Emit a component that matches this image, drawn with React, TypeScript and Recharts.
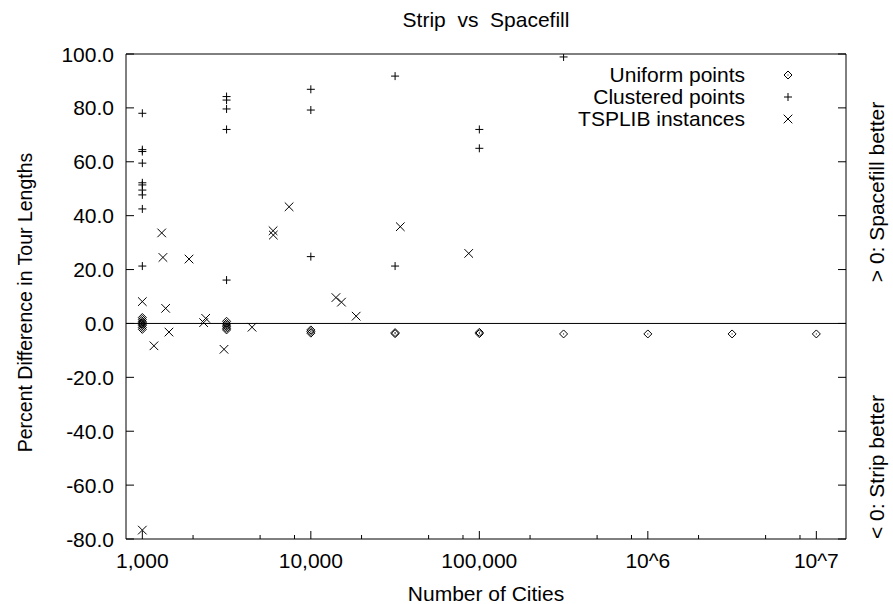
import React from 'react';
import { ScatterChart, Scatter, XAxis, YAxis, ReferenceLine, Legend, Label } from 'recharts';

// ---- data ----
const uniformCities = [1000, 1000, 1000, 1000, 1000, 1000, 1000, 1000, 3162, 3162, 3162, 3162, 3162, 3162, 10000, 10000, 10000, 31623, 31623, 100000, 100000, 316228, 1000000, 3162278, 10000000];
const uniformDiff = [2.2, 1.5, 0.8, 0.3, -0.3, -0.8, -1.5, -2.2, 0.8, 0.0, -0.6, -1.2, -1.8, -2.4, -2.4, -3.0, -3.6, -3.4, -3.8, -3.3, -3.8, -3.9, -3.9, -3.9, -3.9];

const clusteredCities = [1000, 1000, 1000, 1000, 1000, 1000, 1000, 1000, 1000, 1000, 3162, 3162, 3162, 3162, 3162, 10000, 10000, 10000, 31623, 31623, 100000, 100000, 316228];
const clusteredDiff = [78.0, 64.5, 63.8, 59.5, 52.2, 51.4, 49.5, 47.7, 42.5, 21.3, 84.2, 82.9, 79.6, 72.0, 16.1, 86.9, 79.2, 24.8, 91.8, 21.3, 72.0, 65.0, 98.9];

const tspCities = [1000, 1000, 1172, 1303, 1325, 1375, 1439, 1893, 2311, 2377, 3053, 4478, 5970, 5990, 7430, 14090, 15200, 18580, 33960, 86500];
const tspDiff = [8.1, -76.7, -8.3, 33.6, 24.5, 5.6, -3.2, 23.9, 0.3, 1.9, -9.6, -1.4, 34.4, 32.8, 43.3, 9.6, 7.9, 2.7, 35.9, 26.0];

const xTicks = [1000, 2000, 5000, 8000, 10000, 20000, 50000, 80000, 100000, 200000, 500000, 800000, 1000000, 2000000, 5000000, 8000000, 10000000];
const xMajorTicks = [1000, 10000, 100000, 1000000, 10000000];
const xMajorLabels = ['1,000', '10,000', '100,000', '10^6', '10^7'];
const yTicks = [-80, -60, -40, -20, 0, 20, 40, 60, 80, 100];

const seriesNames = ['Uniform points', 'Clustered points', 'TSPLIB instances'];
const titleText = 'Strip  vs  Spacefill';
const xTitle = 'Number of Cities';
const yTitle = 'Percent Difference in Tour Lengths';
const rightTop = '> 0: Spacefill better';
const rightBottom = '< 0: Strip better';

const zip = (xs: number[], ys: number[]) => xs.map((x, i) => ({ x, y: ys[i] }));
const uniformData = zip(uniformCities, uniformDiff);
const clusteredData = zip(clusteredCities, clusteredDiff);
const tspData = zip(tspCities, tspDiff);

// ---- style ----
const FONT = '"Liberation Sans", Arial, Helvetica, sans-serif';
const FS = 21;
const INK = '#000';

const majorIndex = (v: number) => xMajorTicks.findIndex((m) => Math.abs(m - v) / m < 1e-6);

const diamondPath = (cx: number, cy: number) => `M${cx},${cy - 4}L${cx + 4},${cy}L${cx},${cy + 4}L${cx - 4},${cy}Z`;
const plusPath = (cx: number, cy: number) => `M${cx - 4},${cy}H${cx + 4}M${cx},${cy - 4}V${cy + 4}`;
const crossPath = (cx: number, cy: number) => `M${cx - 4.3},${cy - 4.3}L${cx + 4.3},${cy + 4.3}M${cx + 4.3},${cy - 4.3}L${cx - 4.3},${cy + 4.3}`;

const Diamond = (p: any) => (
  <g>
    <path d={diamondPath(p.cx, p.cy)} fill="none" stroke={INK} strokeWidth={1} />
    <rect x={p.cx - 0.5} y={p.cy - 0.5} width={1} height={1} fill={INK} />
  </g>
);
const Plus = (p: any) => <path d={plusPath(p.cx, p.cy)} fill="none" stroke={INK} strokeWidth={1} />;
const Cross = (p: any) => <path d={crossPath(p.cx, p.cy)} fill="none" stroke={INK} strokeWidth={1} />;

const symbolFor = (name: string, cx: number, cy: number) => {
  if (name === seriesNames[0]) return <Diamond cx={cx} cy={cy} />;
  if (name === seriesNames[1]) return <Plus cx={cx} cy={cy} />;
  return <Cross cx={cx} cy={cy} />;
};

const BottomTick = (props: any) => {
  const { x, y, payload } = props;
  const idx = majorIndex(payload.value);
  const major = idx >= 0;
  return (
    <g>
      <line x1={x} x2={x} y1={y} y2={y - (major ? 8 : 4)} stroke={INK} strokeWidth={1} />
      {major && (
        <text x={x} y={y + 29} textAnchor="middle" fontFamily={FONT} fontSize={FS} fill={INK}>
          {xMajorLabels[idx]}
        </text>
      )}
    </g>
  );
};

const TopTick = (props: any) => {
  const { x, y, payload } = props;
  const major = majorIndex(payload.value) >= 0;
  return <line x1={x} x2={x} y1={y} y2={y + (major ? 8 : 4)} stroke={INK} strokeWidth={1} />;
};

const LeftTick = (props: any) => {
  const { x, y, payload } = props;
  return (
    <g>
      <line x1={x} x2={x + 8} y1={y} y2={y} stroke={INK} strokeWidth={1} />
      <text x={x - 12} y={y} dy="0.36em" textAnchor="end" fontFamily={FONT} fontSize={FS} fill={INK}>
        {Number(payload.value).toFixed(1)}
      </text>
    </g>
  );
};

const RightTick = (props: any) => {
  const { x, y } = props;
  return <line x1={x} x2={x - 8} y1={y} y2={y} stroke={INK} strokeWidth={1} />;
};

const renderLegend = (props: any) => {
  const payload = [...(props.payload || [])].sort(
    (a: any, b: any) => seriesNames.indexOf(a.value) - seriesNames.indexOf(b.value)
  );
  return (
    <div style={{ fontFamily: FONT, fontSize: FS, color: INK }}>
      {payload.map((entry: any, i: number) => (
        <div key={i} style={{ display: 'flex', alignItems: 'center', height: 22 }}>
          <span style={{ width: 245, textAlign: 'right', whiteSpace: 'pre', lineHeight: '22px' }}>{entry.value}</span>
          <svg width={86} height={22} style={{ display: 'block' }}>
            {symbolFor(entry.value, 43, 11)}
          </svg>
        </div>
      ))}
    </div>
  );
};

export default function App() {
  return (
    <div style={{ position: 'absolute', left: 0, top: 0, width: 893, height: 604, background: '#fff' }}>
      <ScatterChart width={893} height={604} margin={{ top: 0, right: 0, bottom: 0, left: 0 }}>
        <XAxis
          dataKey="x"
          type="number"
          scale="log"
          domain={[800, 15000000]}
          allowDataOverflow
          ticks={xTicks}
          interval={0}
          tickSize={0}
          tickMargin={0}
          tickLine={false}
          tick={(p: any) => <BottomTick {...p} />}
          axisLine={{ stroke: INK, strokeWidth: 1 }}
          height={65}
        >
          <Label
            content={(p: any) => {
              const vb = p.viewBox;
              return (
                <text x={vb.x + vb.width / 2} y={vb.y + 62} textAnchor="middle" fontFamily={FONT} fontSize={FS} fill={INK}>
                  {xTitle}
                </text>
              );
            }}
          />
        </XAxis>
        <XAxis
          xAxisId="top"
          orientation="top"
          type="number"
          scale="log"
          domain={[800, 15000000]}
          allowDataOverflow
          ticks={xTicks}
          interval={0}
          tickSize={0}
          tickMargin={0}
          tickLine={false}
          tick={(p: any) => <TopTick {...p} />}
          axisLine={{ stroke: INK, strokeWidth: 1 }}
          height={54}
        >
          <Label
            content={(p: any) => {
              const vb = p.viewBox;
              return (
                <text x={vb.x + vb.width / 2} y={vb.y + 27} textAnchor="middle" fontFamily={FONT} fontSize={FS} fill={INK} style={{ whiteSpace: 'pre' }}>
                  {titleText}
                </text>
              );
            }}
          />
        </XAxis>
        <YAxis
          dataKey="y"
          type="number"
          domain={[-80, 100]}
          allowDataOverflow
          ticks={yTicks}
          interval={0}
          tickSize={0}
          tickMargin={0}
          tickLine={false}
          tick={(p: any) => <LeftTick {...p} />}
          axisLine={{ stroke: INK, strokeWidth: 1 }}
          width={126}
        >
          <Label
            content={(p: any) => {
              const vb = p.viewBox;
              const cx = vb.x + 25;
              const cy = vb.y + vb.height / 2 + 6;
              return (
                <text x={cx} y={cy} textAnchor="middle" dominantBaseline="central" transform={`rotate(-90 ${cx} ${cy})`} fontFamily={FONT} fontSize={19.5} fill={INK}>
                  {yTitle}
                </text>
              );
            }}
          />
        </YAxis>
        <YAxis
          yAxisId="right"
          orientation="right"
          type="number"
          domain={[-80, 100]}
          allowDataOverflow
          ticks={yTicks}
          interval={0}
          tickSize={0}
          tickMargin={0}
          tickLine={false}
          tick={(p: any) => <RightTick {...p} />}
          axisLine={{ stroke: INK, strokeWidth: 1 }}
          width={47}
        >
          <Label
            content={(p: any) => {
              const vb = p.viewBox;
              const cx = vb.x + 30;
              const cy1 = vb.y + 138;
              const cy2 = vb.y + 413;
              return (
                <g>
                  <text x={cx} y={cy1} textAnchor="middle" dominantBaseline="central" transform={`rotate(-90 ${cx} ${cy1})`} fontFamily={FONT} fontSize={FS} fill={INK}>
                    {rightTop}
                  </text>
                  <text x={cx} y={cy2} textAnchor="middle" dominantBaseline="central" transform={`rotate(-90 ${cx} ${cy2})`} fontFamily={FONT} fontSize={FS} fill={INK}>
                    {rightBottom}
                  </text>
                </g>
              );
            }}
          />
        </YAxis>
        <ReferenceLine y={0} stroke={INK} strokeWidth={1} />
        <Legend
          layout="vertical"
          align="center"
          verticalAlign="middle"
          content={renderLegend}
          wrapperStyle={{ position: 'absolute', top: 64, left: 500, width: 331, height: 66 }}
        />
        <Scatter name={seriesNames[0]} data={uniformData} shape={Diamond} isAnimationActive={false} legendType="diamond" />
        <Scatter name={seriesNames[1]} data={clusteredData} shape={Plus} isAnimationActive={false} legendType="cross" />
        <Scatter name={seriesNames[2]} data={tspData} shape={Cross} isAnimationActive={false} legendType="cross" />
      </ScatterChart>
    </div>
  );
}
